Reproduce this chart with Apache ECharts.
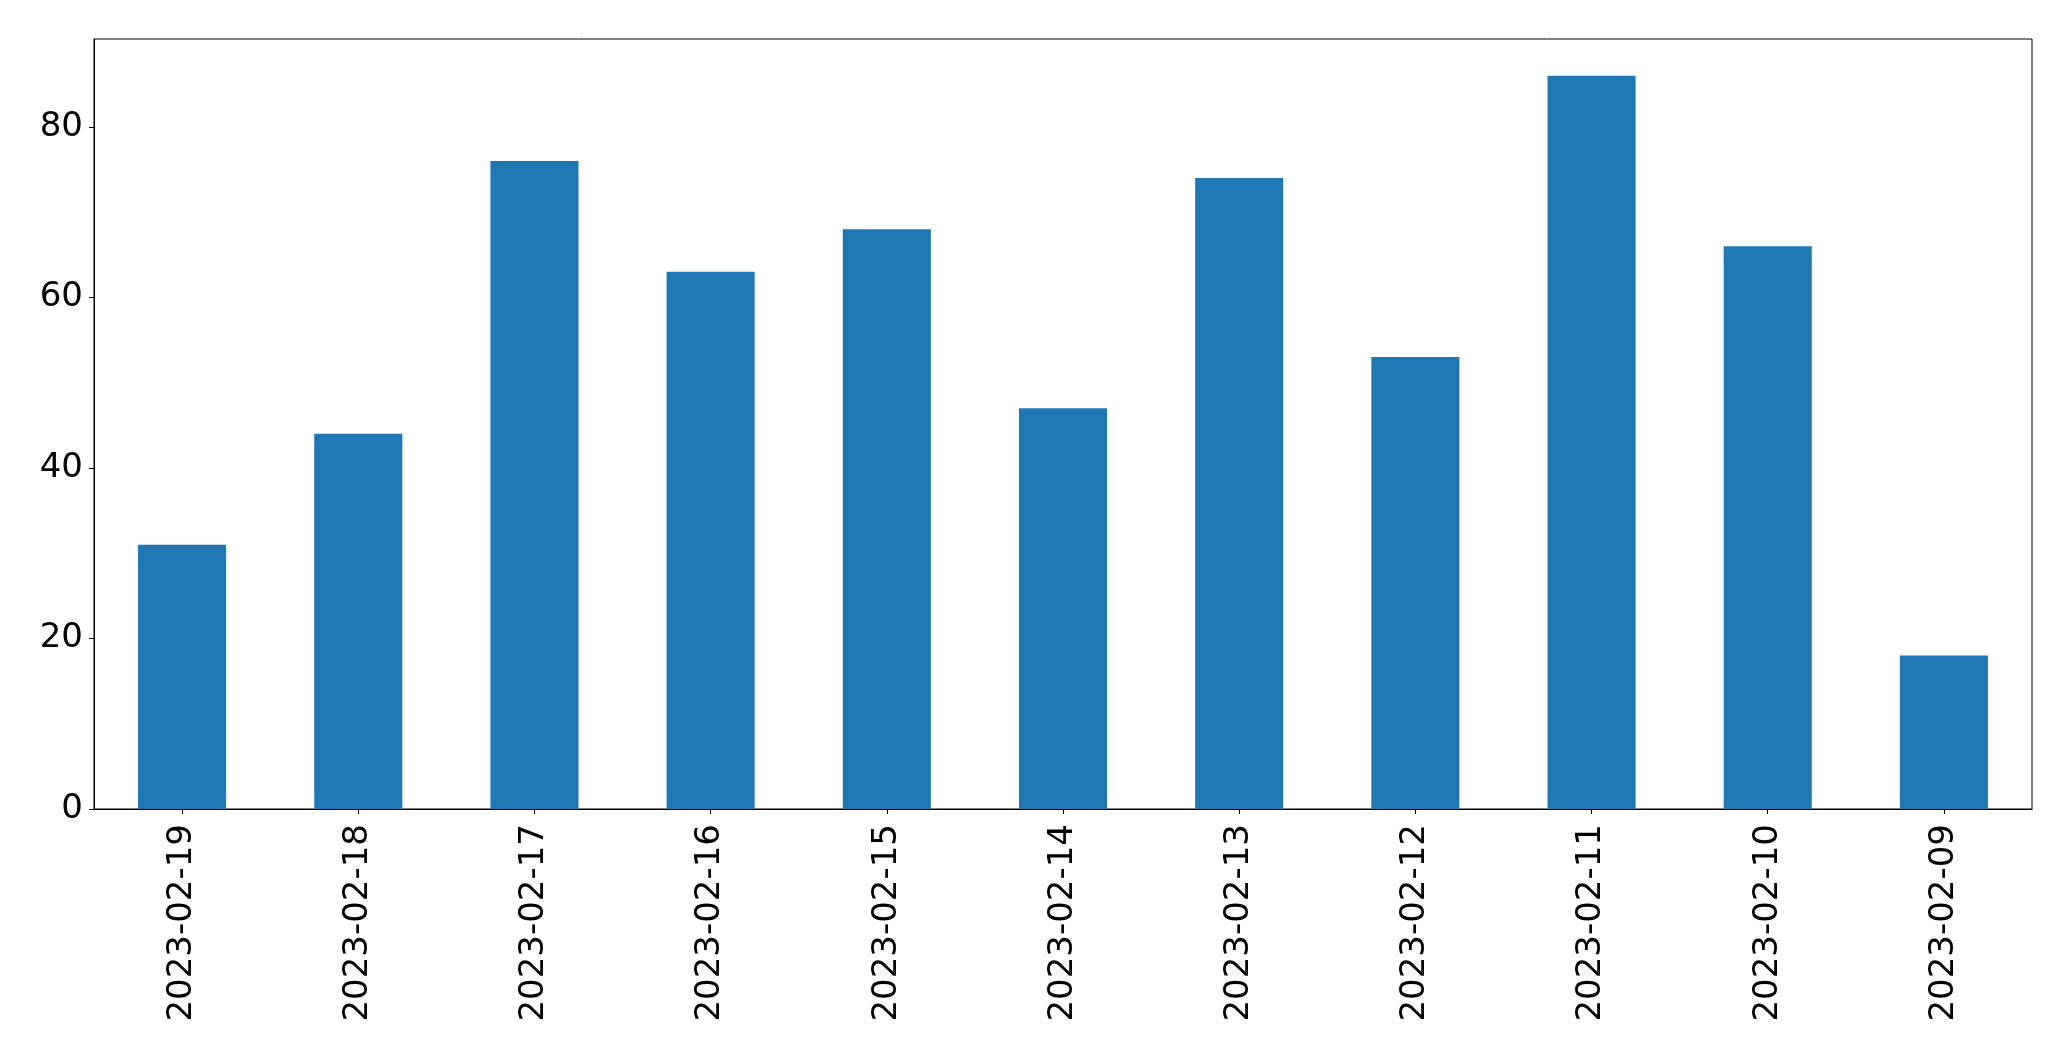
<!DOCTYPE html>
<html>
<head>
<meta charset="utf-8">
<script src="https://cdn.jsdelivr.net/npm/echarts@6/dist/echarts.min.js"></script>
<style>
html,body{margin:0;padding:0;background:#fff;}
#chart{width:2071px;height:1061px;}
</style>
</head>
<body>
<div id="chart"></div>
<script>
const categories = ['2023-02-19','2023-02-18','2023-02-17','2023-02-16','2023-02-15','2023-02-14','2023-02-13','2023-02-12','2023-02-11','2023-02-10','2023-02-09'];
const values = [31, 44, 76, 63, 68, 47, 74, 53, 86, 66, 18];
const yTicks = [0, 20, 40, 60, 80];

const chart = echarts.init(document.getElementById('chart'), null, {renderer: 'canvas'});
const font = 'DejaVu Sans';
chart.setOption({
  animation: false,
  backgroundColor: '#ffffff',
  grid: {left: 94, top: 39, right: 39, bottom: 252, show: true, borderColor: '#000', borderWidth: 1, containLabel: false},
  xAxis: {
    type: 'category',
    data: categories,
    boundaryGap: true,
    axisLine: {show: true, lineStyle: {color: '#000', width: 1}},
    axisTick: {show: true, alignWithLabel: true, length: 5, lineStyle: {color: '#000', width: 1}},
    axisLabel: {rotate: 90, margin: 15, color: '#000', fontSize: 34, fontFamily: font, interval: 0},
    splitLine: {show: false}
  },
  yAxis: {
    type: 'value',
    min: 0,
    max: 90.3,
    axisLine: {show: true, lineStyle: {color: '#000', width: 1}},
    axisTick: {show: true, length: 5, customValues: yTicks, lineStyle: {color: '#000', width: 1}},
    axisLabel: {margin: 11, color: '#000', fontSize: 34, fontFamily: font, customValues: yTicks},
    splitLine: {show: false}
  },
  series: [{
    type: 'bar',
    data: values,
    barWidth: '50%',
    itemStyle: {color: '#1f77b4'}
  }]
});
</script>
</body>
</html>
